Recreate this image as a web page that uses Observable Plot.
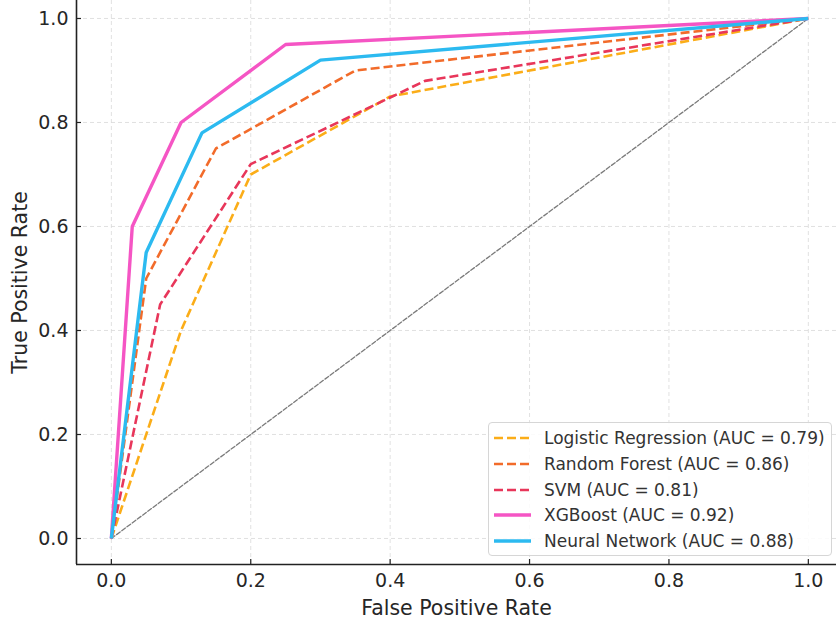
<!DOCTYPE html>
<html>
<head>
<meta charset="utf-8">
<script src="https://cdn.jsdelivr.net/npm/d3@7"></script>
<script src="https://cdn.jsdelivr.net/npm/@observablehq/plot@0.6"></script>
<style>
  html, body { margin: 0; padding: 0; background: #fff; overflow: hidden; }
  #wrap { position: relative; width: 836px; height: 621px; font-family: "DejaVu Sans", sans-serif; }
  #legend { position: absolute; left: 488px; top: 422px; width: 344px; height: 134px; box-sizing: border-box;
    border: 1px solid #d6d6d6; border-radius: 4px; background: rgba(255,255,255,0.85); }
  .row { position: absolute; left: 0; height: 26px; display: flex; align-items: center; font-size: 17px; color: #333; white-space: nowrap; }
  .row svg { margin-left: 5px; margin-right: 13px; }
</style>
</head>
<body>
<div id="wrap"></div>
<script>
const models = ["Logistic Regression", "Random Forest", "SVM", "XGBoost", "Neural Network"];
const aucs = [0.79, 0.86, 0.81, 0.92, 0.88];
const colors = ["#fbad18", "#f26b2a", "#e8365a", "#f555c4", "#2cbaf0"];
const dashed = [true, true, true, false, false];
const fprs = [
  [0, 0.10, 0.20, 0.40, 1.0],
  [0, 0.05, 0.15, 0.35, 1.0],
  [0, 0.07, 0.20, 0.45, 1.0],
  [0, 0.03, 0.10, 0.25, 1.0],
  [0, 0.05, 0.13, 0.30, 1.0]
];
const tprs = [
  [0, 0.40, 0.70, 0.85, 1.0],
  [0, 0.50, 0.75, 0.90, 1.0],
  [0, 0.45, 0.72, 0.88, 1.0],
  [0, 0.60, 0.80, 0.95, 1.0],
  [0, 0.55, 0.78, 0.92, 1.0]
];
const chanceX = [0, 1];
const chanceY = [0, 1];
const xTicks = [0, 0.2, 0.4, 0.6, 0.8, 1.0];
const yTicks = [0, 0.2, 0.4, 0.6, 0.8, 1.0];
const xDomain = [-0.05, 1.0404];
const yDomain = [-0.05, 1.0346];

const rows = [];
models.forEach((m, k) => fprs[k].forEach((f, i) => rows.push({model: m, k, fpr: f, tpr: tprs[k][i]})));
const chance = chanceX.map((x, i) => ({x, y: chanceY[i]}));

const lineMarks = models.map((m, k) => Plot.line(rows.filter(r => r.k === k), {
  x: "fpr", y: "tpr", stroke: colors[k],
  strokeWidth: dashed[k] ? 2.6 : 3.4,
  strokeDasharray: dashed[k] ? "9,4" : null,
  strokeLinejoin: "miter", strokeLinecap: "butt", clip: true
}));

const chart = Plot.plot({
  width: 836, height: 621,
  marginLeft: 76, marginRight: 0, marginTop: 0, marginBottom: 57,
  style: {fontFamily: "DejaVu Sans, sans-serif", background: "#fff"},
  x: {domain: xDomain},
  y: {domain: yDomain},
  marks: [
    Plot.gridX(xTicks, {stroke: "#d9d9d9", strokeOpacity: 1, strokeWidth: 0.8, strokeDasharray: "4,3"}),
    Plot.gridY(yTicks, {stroke: "#d9d9d9", strokeOpacity: 1, strokeWidth: 0.8, strokeDasharray: "4,3"}),
    Plot.line(chance, {x: "x", y: "y", stroke: "#7a7a7a", strokeWidth: 1.3, strokeDasharray: "4.5,2"}),
    ...lineMarks,
    Plot.axisX({ticks: xTicks, tickSize: 0, tickPadding: 9, tickFormat: d3.format(".1f"), fontSize: 19, fill: "#262626", label: null}),
    Plot.axisY({ticks: yTicks, tickSize: 0, tickPadding: 8, tickFormat: d3.format(".1f"), fontSize: 19, fill: "#262626", label: null}),
    Plot.axisX({ticks: [], tickSize: 0, fontSize: 20.5, fill: "#262626",
      label: "False Positive Rate", labelAnchor: "center", labelArrow: "none", labelOffset: 50}),
    Plot.axisY({ticks: [], tickSize: 0, fontSize: 20.5, fill: "#262626",
      label: "True Positive Rate", labelAnchor: "center", labelArrow: "none", labelOffset: 64}),
    Plot.ruleX(xTicks, {x: d => d, y1: xTicks.map(() => yDomain[0]), y2: xTicks.map(() => yDomain[0]), insetBottom: 5, stroke: "#222", strokeWidth: 1.2}),
    Plot.ruleY(yTicks, {y: d => d, x1: yTicks.map(() => xDomain[0]), x2: yTicks.map(() => xDomain[0]), insetRight: -5, stroke: "#222", strokeWidth: 1.2}),
    Plot.ruleX([xDomain[0]], {stroke: "#222", strokeWidth: 1.6}),
    Plot.ruleY([yDomain[0]], {stroke: "#222", strokeWidth: 1.6})
  ]
});

const wrap = document.getElementById("wrap");
wrap.appendChild(chart);

const legend = document.createElement("div");
legend.id = "legend";
models.forEach((m, k) => {
  const row = document.createElement("div");
  row.className = "row";
  row.style.top = (2 + k * 25.8) + "px";
  const ns = "http://www.w3.org/2000/svg";
  const sw = document.createElementNS(ns, "svg");
  sw.setAttribute("width", 37); sw.setAttribute("height", 10);
  const ln = document.createElementNS(ns, "line");
  ln.setAttribute("x1", 0); ln.setAttribute("x2", 37); ln.setAttribute("y1", 5); ln.setAttribute("y2", 5);
  ln.setAttribute("stroke", colors[k]);
  ln.setAttribute("stroke-width", dashed[k] ? 2.6 : 3.4);
  if (dashed[k]) ln.setAttribute("stroke-dasharray", "9,4");
  sw.appendChild(ln);
  row.appendChild(sw);
  const t = document.createElement("span");
  t.textContent = `${m} (AUC = ${aucs[k].toFixed(2)})`;
  row.appendChild(t);
  legend.appendChild(row);
});
wrap.appendChild(legend);
</script>
</body>
</html>
